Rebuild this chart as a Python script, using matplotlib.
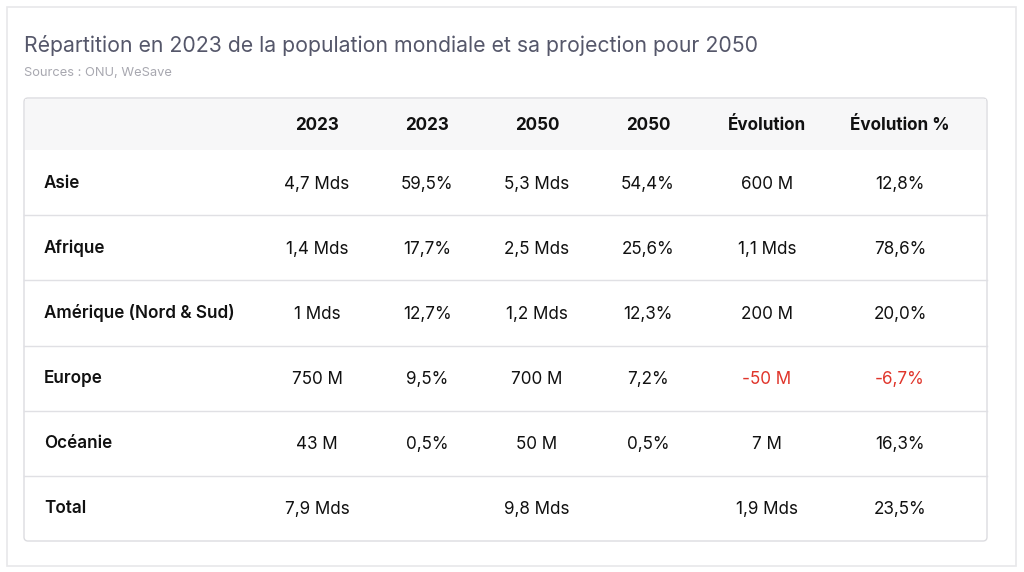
import matplotlib.pyplot as plt
from matplotlib.patches import FancyBboxPatch, Rectangle

plt.rcParams['font.family'] = ['Inter', 'DejaVu Sans']

title = 'Répartition en 2023 de la population mondiale et sa projection pour 2050'
source = 'Sources : ONU, WeSave'

columns = ['2023', '2023', '2050', '2050', 'Évolution', 'Évolution %']
regions = ['Asie', 'Afrique', 'Amérique (Nord & Sud)', 'Europe', 'Océanie', 'Total']
pop_2023 = ['4,7 Mds', '1,4 Mds', '1 Mds', '750 M', '43 M', '7,9 Mds']
share_2023 = ['59,5%', '17,7%', '12,7%', '9,5%', '0,5%', '']
pop_2050 = ['5,3 Mds', '2,5 Mds', '1,2 Mds', '700 M', '50 M', '9,8 Mds']
share_2050 = ['54,4%', '25,6%', '12,3%', '7,2%', '0,5%', '']
evolution = ['600 M', '1,1 Mds', '200 M', '-50 M', '7 M', '1,9 Mds']
evolution_pct = ['12,8%', '78,6%', '20,0%', '-6,7%', '16,3%', '23,5%']

W, H = 1024, 572
fig = plt.figure(figsize=(W / 100, H / 100), dpi=100)
ax = fig.add_axes([0, 0, 1, 1])
ax.set_xlim(0, W)
ax.set_ylim(H, 0)
ax.axis('off')

# outer card
ax.add_patch(Rectangle((7, 7), 1009, 559, facecolor='white', edgecolor='#e8e8ea', lw=1.2))

ax.text(24, 46, title, fontsize=15.3, color='#55576a', va='center', ha='left')
ax.text(24, 73, source, fontsize=9.3, color='#a8a8b0', va='center', ha='left')

# table frame
left, right, top, bottom = 24, 987, 98, 541
header_h = 52
row_h = (bottom - top - header_h) / len(regions)

ax.add_patch(FancyBboxPatch((left, top), right - left, bottom - top,
                            boxstyle='round,pad=0,rounding_size=4',
                            facecolor='white', edgecolor='#dcdce0', lw=1.0, zorder=1))
ax.add_patch(Rectangle((left + 0.6, top + 0.6), right - left - 1.2, header_h - 0.6,
                       facecolor='#f7f7f8', edgecolor='none', zorder=2))

col_x = [317, 427, 537, 648, 767, 900]
for x, name in zip(col_x, columns):
    ax.text(x, top + header_h / 2 + 2, name, fontsize=12.3, fontweight='bold',
            color='#111111', ha='center', va='center', zorder=3)

table_cols = [pop_2023, share_2023, pop_2050, share_2050, evolution, evolution_pct]
for i, region in enumerate(regions):
    y0 = top + header_h + i * row_h
    yc = y0 + row_h / 2 + 1.5
    if i > 0:
        ax.plot([left, right], [y0, y0], color='#e0e0e4', lw=1.0, zorder=3)
    ax.text(44, yc - 1, region, fontsize=12.3, fontweight='semibold',
            color='#111111', ha='left', va='center', zorder=3)
    for x, col in zip(col_x, table_cols):
        val = col[i]
        color = '#e0352b' if val.startswith('-') else '#111111'
        ax.text(x, yc, val, fontsize=12.3, color=color,
                ha='center', va='center', zorder=3)

fig.savefig('out.png', dpi=100, facecolor='white')
